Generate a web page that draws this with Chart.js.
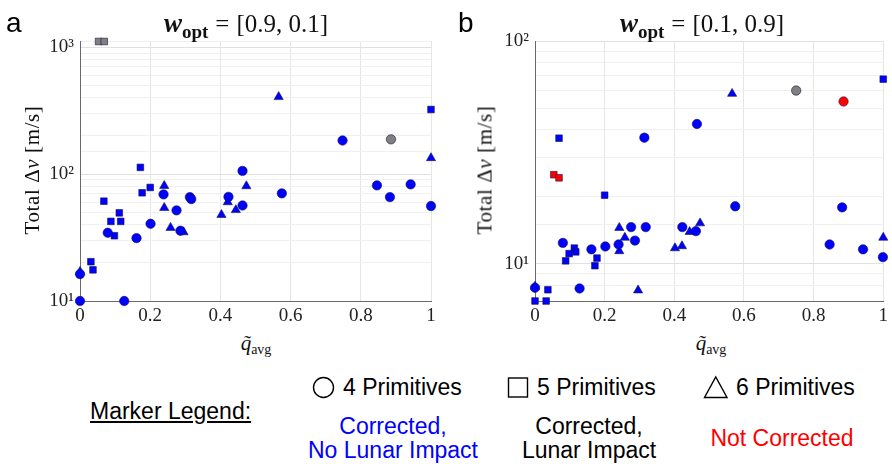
<!DOCTYPE html>
<html>
<head>
<meta charset="utf-8">
<script src="https://cdn.jsdelivr.net/npm/chart.js@4.4.1/dist/chart.umd.min.js"></script>
<style>
  html, body { margin: 0; padding: 0; background: #ffffff; }
  #wrap { position: relative; width: 892px; height: 464px; overflow: hidden; background: #fff; }
  canvas { position: absolute; top: 0; }
  .serif { font-family: "Liberation Serif", "DejaVu Serif", serif; color: #111; }
  .sans { font-family: "Liberation Sans", Arial, sans-serif; }
  .abs { position: absolute; white-space: nowrap; }
  .ttl { font-size: 25px; transform: translate(-50%, -50%); line-height: 1; }
  .ttl b i { font-size: 27px; }
  .ttl sub { font-size: 19px; vertical-align: -6px; }
  .ttl .eq { margin: 0 7px; }
  .ylab { font-size: 21px; letter-spacing: 0.6px; transform: translate(-50%, -50%) rotate(-90deg); line-height: 1; }
  .xlab { font-size: 21px; transform: translate(-50%, -50%); line-height: 1; }
  .xlab sub { font-size: 14px; vertical-align: -4px; }
  .panel { font-size: 28px; line-height: 28px; }
  .leg { font-size: 23px; line-height: 23px; }
  .ctr { transform: translateX(-50%); text-align: center; }
</style>
</head>
<body>
<div id="wrap">
  <canvas id="ca" width="446" height="330" style="left:0px;width:446px;height:330px;"></canvas>
  <canvas id="cb" width="446" height="330" style="left:446px;width:446px;height:330px;"></canvas>

  <div class="abs sans panel" style="left:6px;top:9px;">a</div>
  <div class="abs sans panel" style="left:458px;top:9px;">b</div>

  <div class="abs serif ttl" style="left:246px;top:25px;"><b><i>w</i></b><sub><b>opt</b></sub><span class="eq">=</span>[0.9, 0.1]</div>
  <div class="abs serif ttl" style="left:702px;top:25px;"><b><i>w</i></b><sub><b>opt</b></sub><span class="eq">=</span>[0.1, 0.9]</div>

  <div class="abs serif ylab" style="left:32px;top:170px;">Total &Delta;<i>v</i> [m/s]</div>
  <div class="abs serif ylab" style="left:485px;top:170px;">Total &Delta;<i>v</i> [m/s]</div>

  <div class="abs serif xlab" style="left:256px;top:345px;"><i>q&#771;</i><sub>avg</sub></div>
  <div class="abs serif xlab" style="left:711px;top:345px;"><i>q&#771;</i><sub>avg</sub></div>

  <!-- Marker legend -->
  <svg class="abs" style="left:300px;top:372px;" width="560" height="32">
    <circle cx="23.5" cy="15.5" r="10" fill="none" stroke="#000" stroke-width="1.4"/>
    <rect x="208.5" y="6" width="19" height="19" fill="none" stroke="#000" stroke-width="1.4"/>
    <polygon points="404.5,25.5 427,25.5 415.75,5" fill="none" stroke="#000" stroke-width="1.4"/>
  </svg>
  <div class="abs sans leg" style="left:343px;top:376px;">4 Primitives</div>
  <div class="abs sans leg" style="left:537px;top:376px;">5 Primitives</div>
  <div class="abs sans leg" style="left:736px;top:376px;">6 Primitives</div>

  <div class="abs sans leg" style="left:90px;top:400px;text-decoration:underline;">Marker Legend:</div>

  <div class="abs sans leg ctr" style="left:393px;top:415px;color:#0000ff;">Corrected,</div>
  <div class="abs sans leg ctr" style="left:393px;top:439px;color:#0000ff;">No Lunar Impact</div>
  <div class="abs sans leg ctr" style="left:589px;top:415px;color:#000;">Corrected,</div>
  <div class="abs sans leg ctr" style="left:589px;top:439px;color:#000;">Lunar Impact</div>
  <div class="abs sans leg ctr" style="left:782px;top:427px;color:#ff0000;">Not Corrected</div>
</div>

<script>
// ---------- DATA (q_avg, total delta-v [m/s]) ----------
// Panel a: w_opt = [0.9, 0.1]
const aBlueCircles = [[0,10],[0.126,10],[0,16.3],[0.079,34.5],[0.161,31.3],[0.201,40.6],[0.238,69.2],[0.275,51.8],[0.286,35.8],[0.313,65.9],[0.317,63.6],[0.423,66.2],[0.463,106],[0.463,56.6],[0.575,70.5],[0.748,184],[0.846,81.5],[0.883,65.9],[0.942,83],[1.0,56]];
const aGrayCircles = [[0.886,188]];
const aBlueSquares = [[0.031,20.4],[0.037,17.6],[0.068,61.2],[0.088,42.4],[0.098,32.7],[0.112,49.5],[0.116,42.4],[0.177,71.3],[0.200,78.5],[0.172,113],[1.0,323]];
const aGraySquares = [[0.053,1110],[0.069,1110]];
const aBlueTriangles = [[0,17],[0.240,80.9],[0.240,54.3],[0.258,37.8],[0.295,34.9],[0.403,47.8],[0.421,60.2],[0.444,52.2],[0.474,80.5],[0.566,406],[1.0,134]];

// Panel b: w_opt = [0.1, 0.9]
const bBlueCircles = [[0,7.8],[0.080,12.4],[0.128,7.74],[0.162,11.6],[0.202,11.95],[0.240,12.2],[0.276,14.6],[0.287,12.7],[0.318,14.6],[0.314,36.8],[0.423,14.6],[0.462,14.0],[0.465,42.4],[0.575,18.1],[0.846,12.2],[0.882,17.9],[0.942,11.6],[0.999,10.7]];
const bGrayCircles = [[0.750,59.9]];
const bRedCircles = [[0.886,53.5]];
const bBlueSquares = [[0,6.8],[0.032,6.8],[0.037,7.64],[0.069,36.6],[0.088,10.3],[0.098,11.1],[0.113,11.75],[0.117,11.3],[0.172,9.8],[0.178,10.6],[0.200,20.3],[1.0,67.4]];
const bRedSquares = [[0.054,25.1],[0.069,24.3]];
const bBlueTriangles = [[0,7.9],[0.242,14.5],[0.258,13.1],[0.242,11.4],[0.296,7.6],[0.402,11.75],[0.422,12.0],[0.444,13.9],[0.474,15.2],[0.566,58],[1.0,13.1]];

// Axis ranges / ticks
const xTicks = [0, 0.2, 0.4, 0.6, 0.8, 1];
const aYRange = [10, 1120];
const bYRange = [6.8, 100];

// ---------- STYLE ----------
const BLUE = '#0000ff', GRAY = '#808080', RED = '#ff0000';
const EDGE = 'rgba(20,20,70,0.85)';
const SUP = {0:'\u2070',1:'\u00b9',2:'\u00b2',3:'\u00b3'};

function isPow10(v) {
  const l = Math.log10(v);
  return Math.abs(l - Math.round(l)) < 1e-9;
}

function ds(points, color, style) {
  const r = style === 'circle' ? 4.7 : (style === 'rect' ? 4.7 : 5.3);
  return {
    data: points.map(p => ({x: p[0], y: p[1]})),
    pointStyle: style,
    pointRadius: r,
    pointHoverRadius: r,
    backgroundColor: color,
    borderColor: EDGE,
    borderWidth: 0.7,
    showLine: false,
    clip: false
  };
}

function makeChart(id, datasets, yRange, yWidth, padRight) {
  return new Chart(document.getElementById(id), {
    type: 'scatter',
    data: { datasets },
    options: {
      responsive: false,
      animation: false,
      devicePixelRatio: 1,
      layout: { padding: { left: 0, top: 41, right: padRight, bottom: 0 } },
      plugins: { legend: { display: false }, tooltip: { enabled: false }, title: { display: false } },
      events: [],
      scales: {
        x: {
          type: 'linear',
          min: 0, max: 1,
          afterBuildTicks: s => { s.ticks = xTicks.map(v => ({value: v})); },
          afterFit: s => { s.height = 29; },
          ticks: {
            autoSkip: false, maxRotation: 0, padding: 4,
            color: '#222',
            font: { family: '"Liberation Serif", serif', size: 19 },
            callback: v => String(+v.toFixed(1))
          },
          grid: { color: '#e6e6e6', lineWidth: 1, drawTicks: false },
          border: { color: '#6a6a6a', width: 1 }
        },
        y: {
          type: 'logarithmic',
          min: yRange[0], max: yRange[1],
          afterFit: s => { s.width = yWidth; },
          ticks: {
            autoSkip: false, padding: 6,
            color: '#222',
            font: { family: '"Liberation Serif", serif', size: 19 },
            callback: v => isPow10(v) ? '10' + SUP[Math.round(Math.log10(v))] : ''
          },
          grid: {
            drawTicks: false,
            lineWidth: 1,
            color: c => (c.tick && isPow10(c.tick.value)) ? '#e0e0e0' : '#f0f0f0'
          },
          border: { color: '#6a6a6a', width: 1 }
        }
      }
    }
  });
}

makeChart('ca', [
  ds(aBlueCircles, BLUE, 'circle'),
  ds(aGrayCircles, GRAY, 'circle'),
  ds(aBlueSquares, BLUE, 'rect'),
  ds(aGraySquares, GRAY, 'rect'),
  ds(aBlueTriangles, BLUE, 'triangle')
], aYRange, 80, 15);

makeChart('cb', [
  ds(bBlueCircles, BLUE, 'circle'),
  ds(bGrayCircles, GRAY, 'circle'),
  ds(bRedCircles, RED, 'circle'),
  ds(bBlueSquares, BLUE, 'rect'),
  ds(bRedSquares, RED, 'rect'),
  ds(bBlueTriangles, BLUE, 'triangle')
], bYRange, 89, 5);
</script>
</body>
</html>
